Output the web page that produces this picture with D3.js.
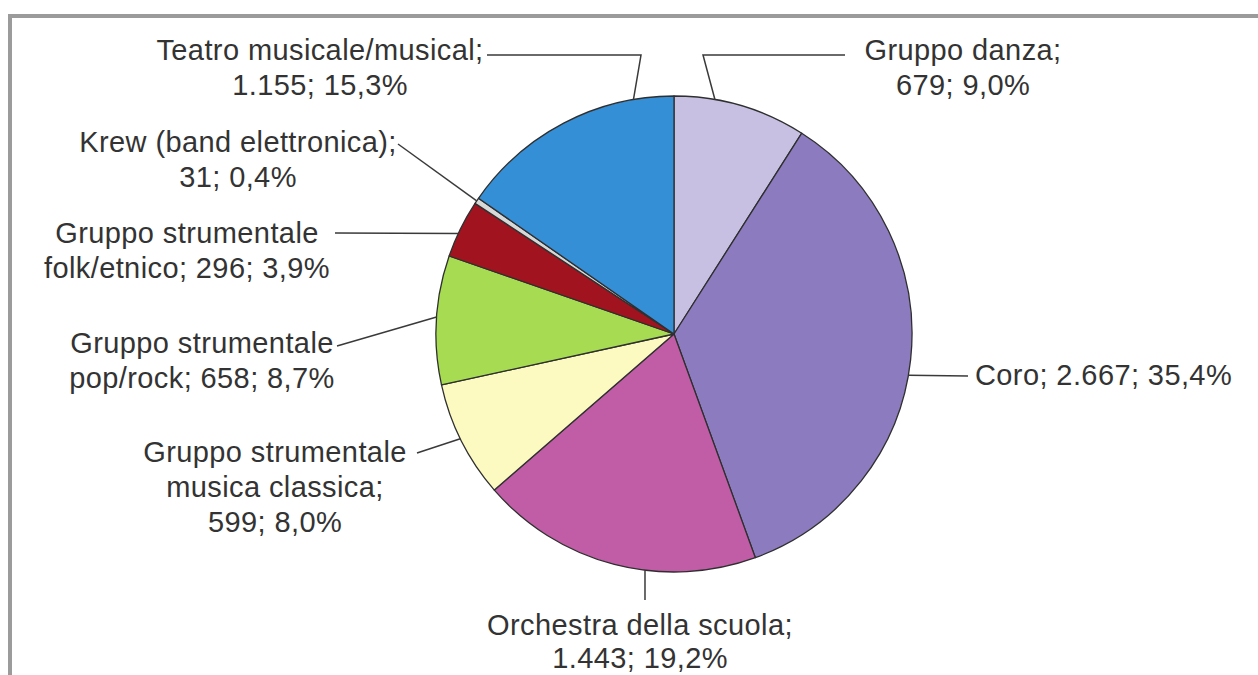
<!DOCTYPE html>
<html>
<head>
<meta charset="utf-8">
<script src="https://cdn.jsdelivr.net/npm/d3@7"></script>
<style>
  html, body { margin: 0; padding: 0; background: #fff; }
  svg { display: block; }
</style>
</head>
<body>
<svg id="chart" width="1258" height="675"></svg>
<script>
// Slices in clockwise order, starting at twelve o'clock
const categories = [
  "Gruppo danza",
  "Coro",
  "Orchestra della scuola",
  "Gruppo strumentale musica classica",
  "Gruppo strumentale pop/rock",
  "Gruppo strumentale folk/etnico",
  "Krew (band elettronica)",
  "Teatro musicale/musical"
];
const values = [679, 2667, 1443, 599, 658, 296, 31, 1155];
const colors = ["#c8c0e3", "#8c7bbf", "#c05da6", "#fcf9c1", "#a7dc52", "#a1141f", "#d8d8d8", "#358fd6"];

// How each category name wraps, and whether the figures follow on the same line
const nameLines = [
  ["Gruppo danza"],
  ["Coro"],
  ["Orchestra della scuola"],
  ["Gruppo strumentale", "musica classica"],
  ["Gruppo strumentale", "pop/rock"],
  ["Gruppo strumentale", "folk/etnico"],
  ["Krew (band elettronica)"],
  ["Teatro musicale/musical"]
];
const inlineFigures = [false, true, false, false, true, true, false, false];

const it = d3.formatLocale({ decimal: ",", thousands: ".", grouping: [3], currency: ["", " €"] });
const fmtValue = it.format(",d");
const fmtPct = it.format(".1f");

const svg = d3.select("#chart");
const W = 1258, H = 675;
const cx = 674, cy = 334, R = 238;
const fontSize = 29;

// Frame around the figure
svg.append("path")
  .attr("d", `M10,${H + 10} V16 H${W + 10}`)
  .attr("fill", "none")
  .attr("stroke", "#9b9b9b")
  .attr("stroke-width", 4);

const total = d3.sum(values);
const pie = d3.pie().sort(null).value(d => d)(values);
const arc = d3.arc().innerRadius(0).outerRadius(R);

const g = svg.append("g").attr("transform", `translate(${cx},${cy})`);
g.selectAll("path.slice")
  .data(pie)
  .join("path")
  .attr("class", "slice")
  .attr("d", arc)
  .attr("fill", (d, i) => colors[i])
  .attr("stroke", "#2f2f2f")
  .attr("stroke-width", 1.3)
  .attr("stroke-linejoin", "round");

// Label placement: where the leader meets the rim (degrees clockwise from top),
// the leader's bends toward the label, the text block position and its line step
const labelLayout = [
  { rim: 9.9,   bends: [[845, 55], [703, 55]], x: 963, y: 50,  anchor: "middle", step: 35 },
  { rim: 100,   bends: [[968, 376]],            x: 975, y: 375, anchor: "start",  step: 35 },
  { rim: 187,   bends: [[645, 600]],            x: 640, y: 625, anchor: "middle", step: 33 },
  { rim: 243.9, bends: [[417, 453]],            x: 275, y: 452, anchor: "middle", step: 35 },
  { rim: 274.1, bends: [[337, 346]],            x: 202, y: 343, anchor: "middle", step: 35 },
  { rim: 295,   bends: [[335, 233]],            x: 187, y: 233, anchor: "middle", step: 35 },
  { rim: 304,   bends: [[398, 144]],            x: 238, y: 142, anchor: "middle", step: 35 },
  { rim: 350.2, bends: [[487, 55], [641, 55]],  x: 320, y: 50,  anchor: "middle", step: 35 }
];

const rimPoint = deg => {
  const a = deg * Math.PI / 180;
  return [cx + R * Math.sin(a), cy - R * Math.cos(a)];
};

const line = d3.line();
values.forEach((v, i) => {
  const lay = labelLayout[i];
  const pts = lay.bends.concat([rimPoint(lay.rim)]);
  svg.append("path")
    .attr("d", line(pts))
    .attr("fill", "none")
    .attr("stroke", "#3a3a3a")
    .attr("stroke-width", 1.5);

  const figures = `${fmtValue(v)}; ${fmtPct(v / total * 100)}%`;
  const lines = nameLines[i].slice();
  if (inlineFigures[i]) {
    lines[lines.length - 1] += "; " + figures;
  } else {
    lines[lines.length - 1] += ";";
    lines.push(figures);
  }

  const t = svg.append("text")
    .attr("x", lay.x)
    .attr("y", lay.y + 10)
    .attr("text-anchor", lay.anchor)
    .attr("font-family", "'Liberation Sans', Arial, Helvetica, sans-serif")
    .attr("font-size", fontSize)
    .attr("letter-spacing", 0.4)
    .attr("fill", "#333");
  lines.forEach((s, k) => {
    t.append("tspan")
      .attr("x", lay.x)
      .attr("dy", k === 0 ? 0 : lay.step)
      .text(s);
  });
});
</script>
</body>
</html>
